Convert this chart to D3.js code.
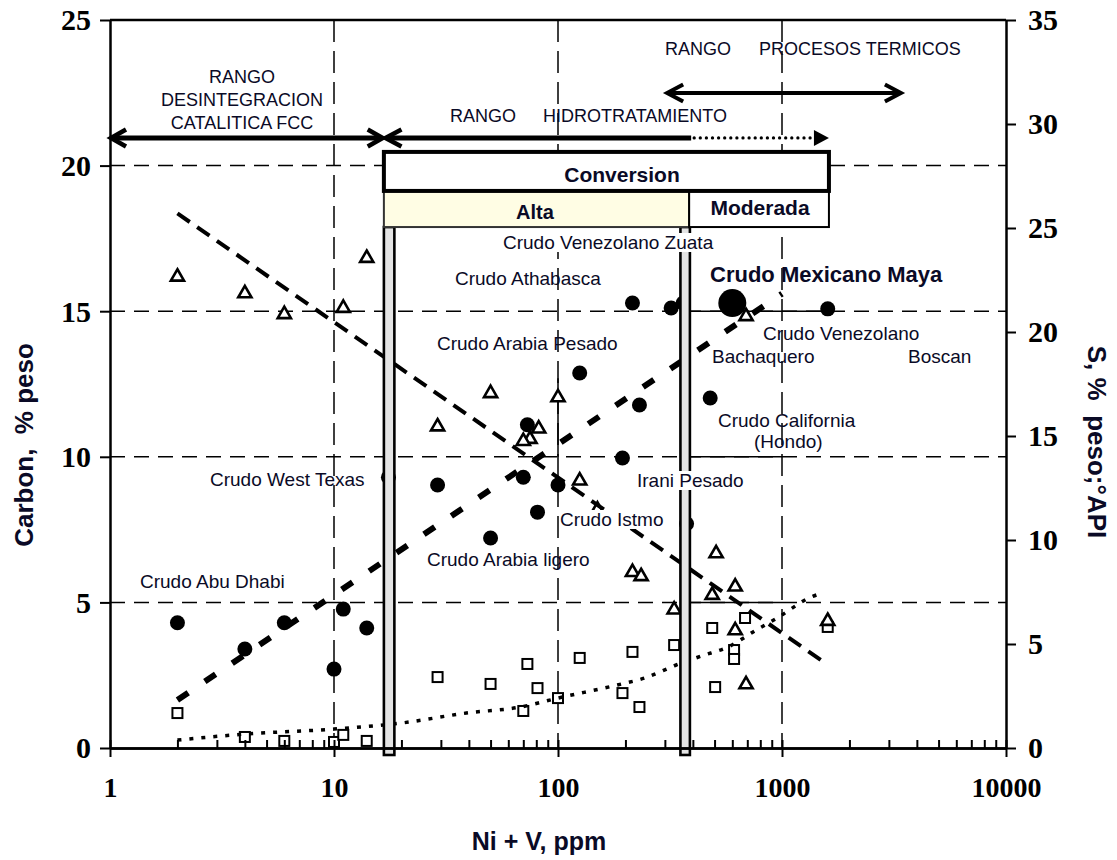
<!DOCTYPE html>
<html><head><meta charset="utf-8">
<script src="https://cdn.jsdelivr.net/npm/d3@7"></script>
<style>
html,body{margin:0;padding:0;background:#fff;}
svg{display:block;}
</style></head><body>
<svg id="chart" width="1117" height="860"></svg>
<script>
// ---------- DATA ----------
const xTickValues = [1, 10, 100, 1000, 10000];
const yLeftTicks = [0, 5, 10, 15, 20, 25];
const yRightTicks = [0, 5, 10, 15, 20, 25, 30, 35];
const xGridValues = [10, 100, 1000];
const yGridValues = [5, 10, 15, 20];

// Carbon, % peso (filled circles, left axis)
const carbonX = [2, 4, 6, 10, 11, 14, 17.5, 29, 50, 73, 70, 100, 81, 125, 231, 194, 215, 320, 362, 478, 375, 1600];
const carbonY = [4.3, 3.4, 4.3, 2.71, 4.77, 4.12, 9.3, 9.03, 7.21, 11.1, 9.3, 9.03, 8.1, 12.88, 11.78, 9.96, 15.28, 15.11, 15.28, 12.02, 7.7, 15.08];
// Crudo Mexicano Maya (large circle, left axis)
const mayaX = [600];
const mayaY = [15.28];

// °API (open triangles, right axis)
const apiX = [2, 4, 6, 11, 14, 29, 50, 100, 82, 75, 70, 125, 150, 215, 235, 330, 508, 618, 488, 618, 691, 1600, 691];
const apiY = [22.7, 21.9, 20.9, 21.2, 23.6, 15.5, 17.1, 16.9, 15.4, 14.9, 14.8, 12.9, 11.5, 8.5, 8.3, 6.7, 9.4, 7.8, 7.4, 5.7, 3.1, 6.15, 20.8];

// S, % peso (open squares, right axis)
const sulfurX = [2, 4, 6, 10, 11, 14, 29, 50, 73, 81, 70, 100, 125, 215, 194, 231, 330, 488, 684, 611, 611, 503, 1600];
const sulfurY = [1.68, 0.53, 0.34, 0.29, 0.63, 0.34, 3.41, 3.08, 4.04, 2.88, 1.78, 2.40, 4.33, 4.62, 2.64, 1.97, 4.95, 5.77, 6.25, 4.71, 4.28, 2.93, 5.82];

// Trend lines
const apiTrendX = [2, 1600];
const apiTrendY = [25.7, 4.0];
const carbonTrendX = [2, 1000];
const carbonTrendY = [1.65, 15.6];
const sulfurTrendX = [2, 4, 10, 20, 39, 68, 100, 184, 245, 337, 436, 575, 767, 951, 1350, 1510];
const sulfurTrendY = [0.38, 0.67, 0.91, 1.2, 1.68, 1.97, 2.4, 3.03, 3.37, 3.99, 4.42, 4.86, 5.67, 6.25, 7.26, 7.45];

// Annotation extents in data units (ppm / Carbon %)
const bar1X = [16.7, 18.6];
const bar2X = [352, 388];
const boxX = [16.7, 1620];
const splitX = 385;
const boxYTop = 20.47, boxYMid = 19.13, boxYBot = 17.89, barYBot = -0.24;
const fccArrow = [1, 16.5], hydroSolid = [16.8, 393], hydroEnd = 1620, arrowY = 20.95;
const thermArrow = [304, 3430], thermY = 22.49;

// ---------- SETUP ----------
const svg = d3.select('#chart');
const x = d3.scaleLog().domain([1, 10000]).range([110, 1006]);
const yL = d3.scaleLinear().domain([0, 25]).range([748, 20]);
const yR = d3.scaleLinear().domain([0, 35]).range([748, 20]);
const INK = '#000';
const TXT = '#0a0a26';
const SANS = '"Liberation Sans", Arial, Helvetica, sans-serif';
const SERIF = '"Liberation Serif", "Times New Roman", serif';

// ---------- GRID ----------
const grid = svg.append('g');
grid.selectAll('line.h').data(yGridValues).join('line')
  .attr('x1', x(1)).attr('x2', x(10000))
  .attr('y1', d => yL(d)).attr('y2', d => yL(d))
  .attr('stroke', INK).attr('stroke-width', 1.5).attr('stroke-dasharray', '15,9');
grid.selectAll('line.v').data(xGridValues).join('line')
  .attr('x1', d => x(d)).attr('x2', d => x(d))
  .attr('y1', yL(25)).attr('y2', yL(0))
  .attr('stroke', INK).attr('stroke-width', 1.5).attr('stroke-dasharray', '22,9');
const solidGrid = [{v: 5, to: 1000}, {v: 10, to: 1000}, {v: 15, to: 1600}];
grid.selectAll('line.s').data(solidGrid).join('line')
  .attr('x1', x(bar2X[1])).attr('x2', d => x(d.to))
  .attr('y1', d => yL(d.v)).attr('y2', d => yL(d.v))
  .attr('stroke', INK).attr('stroke-width', 1.5);
grid.append('line').attr('x1', x(100)).attr('x2', x(100)).attr('y1', yL(12.7)).attr('y2', yL(10))
  .attr('stroke', INK).attr('stroke-width', 1.5);

// ---------- MARKERS ----------
const marks = svg.append('g');
marks.selectAll('circle.c').data(carbonX.map((d, i) => [d, carbonY[i]])).join('circle')
  .attr('cx', d => x(d[0])).attr('cy', d => yL(d[1])).attr('r', 7.5).attr('fill', INK);
marks.selectAll('circle.m').data(mayaX.map((d, i) => [d, mayaY[i]])).join('circle')
  .attr('cx', d => x(d[0])).attr('cy', d => yL(d[1])).attr('r', 14).attr('fill', INK);
marks.selectAll('rect.s').data(sulfurX.map((d, i) => [d, sulfurY[i]])).join('rect')
  .attr('x', d => x(d[0]) - 5).attr('y', d => yR(d[1]) - 5).attr('width', 10).attr('height', 10)
  .attr('fill', '#fff').attr('stroke', INK).attr('stroke-width', 2);
const tri = d3.symbol().type(d3.symbolTriangle).size(75);
marks.selectAll('path.t').data(apiX.map((d, i) => [d, apiY[i]])).join('path')
  .attr('d', tri).attr('transform', d => `translate(${x(d[0])},${yR(d[1]) + 1})`)
  .attr('fill', '#fff').attr('stroke', INK).attr('stroke-width', 2.6).attr('stroke-linejoin', 'miter');

// ---------- TREND LINES ----------
const lineL = d3.line().x(d => x(d[0])).y(d => yL(d[1]));
const lineR = d3.line().x(d => x(d[0])).y(d => yR(d[1]));
svg.append('path').datum(apiTrendX.map((d, i) => [d, apiTrendY[i]]))
  .attr('d', lineR).attr('fill', 'none').attr('stroke', INK).attr('stroke-width', 4)
  .attr('stroke-dasharray', '15,9');
svg.append('path').datum(carbonTrendX.map((d, i) => [d, carbonTrendY[i]]))
  .attr('d', lineL).attr('fill', 'none').attr('stroke', INK).attr('stroke-width', 6)
  .attr('stroke-dasharray', '13,20');
svg.append('path').datum(sulfurTrendX.map((d, i) => [d, sulfurTrendY[i]]))
  .attr('d', lineR.curve(d3.curveMonotoneX)).attr('fill', 'none').attr('stroke', INK).attr('stroke-width', 3.5)
  .attr('stroke-dasharray', '4,8');

// ---------- CONVERSION BARS & BOX ----------
const ann = svg.append('g');
[bar1X, bar2X].forEach(b => {
  ann.append('rect').attr('x', x(b[0])).attr('y', yL(boxYBot))
    .attr('width', x(b[1]) - x(b[0])).attr('height', yL(barYBot) - yL(boxYBot))
    .attr('fill', '#e4e4e4').attr('stroke', INK).attr('stroke-width', 2.6);
});
ann.append('rect').attr('x', x(boxX[0])).attr('y', yL(boxYMid))
  .attr('width', x(splitX) - x(boxX[0])).attr('height', yL(boxYBot) - yL(boxYMid))
  .attr('fill', '#fffde4').attr('stroke', '#333').attr('stroke-width', 2);
ann.append('rect').attr('x', x(splitX)).attr('y', yL(boxYMid))
  .attr('width', x(boxX[1]) - x(splitX)).attr('height', yL(boxYBot) - yL(boxYMid))
  .attr('fill', '#fff').attr('stroke', INK).attr('stroke-width', 2);
ann.append('rect').attr('x', x(boxX[0])).attr('y', yL(boxYTop))
  .attr('width', x(boxX[1]) - x(boxX[0])).attr('height', yL(boxYMid) - yL(boxYTop))
  .attr('fill', '#fff').attr('stroke', INK).attr('stroke-width', 4);

function text(g, t, px, py, opts) {
  const el = g.append('text').attr('x', px).attr('y', py).text(t)
    .attr('font-family', SANS).attr('font-size', opts.size || 19)
    .attr('font-weight', opts.bold ? 'bold' : 'normal')
    .attr('fill', opts.color || TXT)
    .attr('text-anchor', opts.anchor || 'start')
    .style('white-space', 'pre');
  if (opts.bg) {
    const bb = el.node().getBBox();
    g.insert('rect', 'text').attr('x', bb.x - 1).attr('y', bb.y + 1).attr('width', bb.width + 2)
      .attr('height', bb.height - 2).attr('fill', '#fff');
  }
  return el;
}
const tl = svg.append('g');
text(tl, 'Conversion', 622, 182, {size: 21, bold: true, anchor: 'middle'});
text(tl, 'Alta', 535, 219, {size: 20, bold: true, anchor: 'middle'});
text(tl, 'Moderada', 760, 215, {size: 21, bold: true, anchor: 'middle'});

// ---------- ARROWS ----------
const ar = svg.append('g').attr('stroke', INK).attr('fill', 'none');
function chevron(tipX, y, dir, len, half, w) {
  ar.append('path').attr('d', `M${tipX + dir * len},${y - half}L${tipX},${y}L${tipX + dir * len},${y + half}`)
    .attr('stroke-width', w).attr('stroke-linejoin', 'miter').attr('stroke-miterlimit', 10);
}
const yA = yL(arrowY);
ar.append('line').attr('x1', x(fccArrow[0]) + 2).attr('x2', x(fccArrow[1]) - 2).attr('y1', yA).attr('y2', yA).attr('stroke-width', 5);
chevron(x(fccArrow[0]) + 1, yA, 1, 15, 8.5, 4.5);
chevron(x(fccArrow[1]), yA, -1, 15, 8.5, 4.5);
ar.append('line').attr('x1', x(hydroSolid[0]) + 2).attr('x2', x(hydroSolid[1])).attr('y1', yA).attr('y2', yA).attr('stroke-width', 5);
chevron(x(hydroSolid[0]) + 1, yA, 1, 16, 8.5, 4.5);
ar.append('line').attr('x1', x(hydroSolid[1]) + 3).attr('x2', x(hydroEnd) - 14).attr('y1', yA).attr('y2', yA)
  .attr('stroke-width', 3.2).attr('stroke-dasharray', '0.1,6').attr('stroke-linecap', 'round');
ar.append('path').attr('d', `M${x(hydroEnd) - 15},${yA - 8}L${x(hydroEnd)},${yA}L${x(hydroEnd) - 15},${yA + 8}Z`)
  .attr('fill', INK).attr('stroke', 'none');
const yT = yL(thermY);
ar.append('line').attr('x1', x(thermArrow[0]) + 2).attr('x2', x(thermArrow[1]) - 2).attr('y1', yT).attr('y2', yT).attr('stroke-width', 4);
chevron(x(thermArrow[0]) + 1, yT, 1, 16, 8.5, 4);
chevron(x(thermArrow[1]) - 1, yT, -1, 16, 8.5, 4);

// ---------- RANGE LABELS ----------
text(tl, 'RANGO', 242, 83, {size: 18, anchor: 'middle'});
text(tl, 'DESINTEGRACION', 242, 106, {size: 18, anchor: 'middle'});
text(tl, 'CATALITICA FCC', 242, 129, {size: 18, anchor: 'middle'});
text(tl, 'RANGO', 450, 122, {size: 18});
text(tl, 'HIDROTRATAMIENTO', 543, 122, {size: 18});
text(tl, 'RANGO', 665, 55, {size: 18});
text(tl, 'PROCESOS TERMICOS', 759, 55, {size: 18});

// ---------- CRUDE LABELS ----------
const crudeLabels = [
  {t: 'Crudo Abu Dhabi', px: 140, py: 588},
  {t: 'Crudo West Texas', px: 210, py: 486},
  {t: 'Crudo Athabasca', px: 455, py: 285},
  {t: 'Crudo Arabia Pesado', px: 437, py: 350},
  {t: 'Crudo Venezolano Zuata', px: 503, py: 249, bg: true},
  {t: 'Crudo Venezolano', px: 763, py: 340},
  {t: 'Bachaquero', px: 712, py: 363},
  {t: 'Boscan', px: 908, py: 363},
  {t: 'Crudo California', px: 718, py: 427},
  {t: '(Hondo)', px: 754, py: 448},
  {t: 'Irani Pesado', px: 637, py: 487, bg: true},
  {t: 'Crudo Istmo', px: 560, py: 526, bg: true},
  {t: 'Crudo Arabia ligero', px: 427, py: 566}
];
const cl = svg.append('g');
crudeLabels.forEach(l => text(cl, l.t, l.px, l.py, {size: 19, bg: l.bg}));
text(cl, 'Crudo Mexicano Maya', 710, 282, {size: 22, bold: true});

// ---------- AXES ----------
function styleAxis(g) {
  g.select('.domain').attr('stroke', INK).attr('stroke-width', 2.5);
  g.selectAll('.tick line').attr('stroke', INK).attr('stroke-width', 2);
  g.selectAll('.tick text').attr('font-family', SERIF).attr('font-weight', 'bold')
    .attr('font-size', 30).attr('fill', INK);
}
const minorTicks = [];
[1, 10, 100, 1000].forEach(dec => { for (let k = 1; k <= 9; k++) minorTicks.push(dec * k); });
minorTicks.push(10000);
svg.append('g').attr('transform', 'translate(0,748)')
  .call(d3.axisBottom(x).tickValues(minorTicks).tickSizeInner(-8).tickSizeOuter(0).tickFormat(''))
  .call(styleAxis);
const gx = svg.append('g').attr('transform', 'translate(0,748)')
  .call(d3.axisBottom(x).tickValues(xTickValues).tickSizeInner(9).tickSizeOuter(0).tickFormat(d3.format('d')))
  .call(styleAxis);
gx.selectAll('.tick text').attr('y', 49).attr('dy', 0).attr('font-size', 28);

const gyl = svg.append('g').attr('transform', 'translate(110,0)')
  .call(d3.axisLeft(yL).tickValues(yLeftTicks).tickSizeInner(10).tickSizeOuter(0))
  .call(styleAxis);
gyl.selectAll('.tick text').attr('x', -19).attr('dy', '0.33em');
const gyr = svg.append('g').attr('transform', 'translate(1006,0)')
  .call(d3.axisRight(yR).tickValues(yRightTicks).tickSizeInner(10).tickSizeOuter(0))
  .call(styleAxis);
gyr.selectAll('.tick text').attr('x', 22).attr('dy', '0.33em');
svg.append('line').attr('x1', 110).attr('x2', 1006).attr('y1', yL(25)).attr('y2', yL(25))
  .attr('stroke', INK).attr('stroke-width', 2.5);

// ---------- AXIS TITLES ----------
svg.append('text').attr('transform', 'translate(33,445) rotate(-90)').attr('text-anchor', 'middle')
  .attr('font-family', SANS).attr('font-weight', 'bold').attr('font-size', 26).attr('fill', TXT)
  .style('white-space', 'pre').text('Carbon,  % peso');
svg.append('text').attr('transform', 'translate(1088,442) rotate(90)').attr('text-anchor', 'middle')
  .attr('font-family', SANS).attr('font-weight', 'bold').attr('font-size', 26).attr('fill', TXT)
  .style('white-space', 'pre').text('S, %  peso;°API');
svg.append('text').attr('x', 539).attr('y', 850).attr('text-anchor', 'middle')
  .attr('font-family', SANS).attr('font-weight', 'bold').attr('font-size', 25).attr('fill', TXT)
  .text('Ni + V, ppm');
</script>
</body></html>
